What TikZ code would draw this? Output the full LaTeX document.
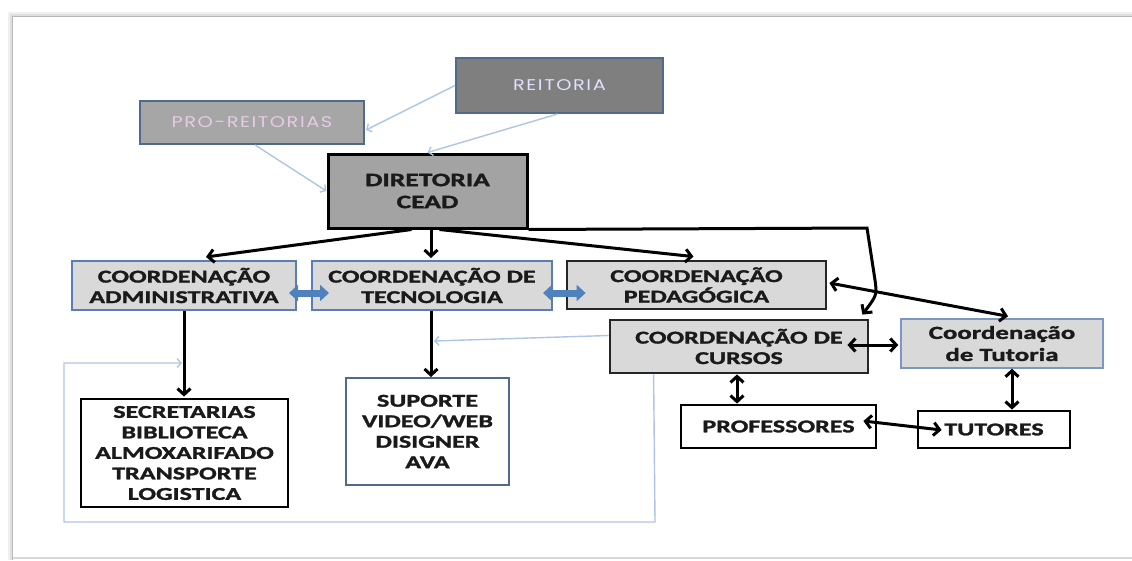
\documentclass[tikz,border=0pt]{standalone}
\usepackage{fontspec}
\setmainfont{Carlito}
\newfontfamily\bx[FakeStretch=1.45,FakeBold=1.6]{Carlito Bold}
\newfontfamily\lt[FakeStretch=1.25,LetterSpace=10]{Poppins}
\usetikzlibrary{arrows.meta,calc}
\definecolor{boxgray}{HTML}{D9D9D9}
\definecolor{reitgray}{HTML}{7F7F7F}
\definecolor{progray}{HTML}{A6A6A6}
\definecolor{dirgray}{HTML}{A3A3A3}
\definecolor{slate}{HTML}{4F6A8C}
\definecolor{blueborder}{HTML}{5A7DB5}
\definecolor{lightblue}{HTML}{AFC6E2}
\definecolor{bluearrow}{HTML}{4F81BD}
\definecolor{darkborder}{HTML}{262626}
\definecolor{txt}{HTML}{1A1A1A}
\tikzset{
  box/.style={rectangle, inner sep=0pt, align=center, text=txt,
    font=\bx\fontsize{18}{20.5}\selectfont},
  gbox/.style={box, fill=boxgray, draw=blueborder, line width=2pt},
  dbox/.style={box, fill=boxgray, draw=darkborder, line width=2.8pt},
  wbox/.style={box, fill=white, draw=black, line width=2.8pt},
  topbox/.style={rectangle, inner sep=0pt, draw=slate, line width=2pt,
    font=\lt\fontsize{15.5}{18}\selectfont},
  arr/.style={draw=black, line width=3pt, -{Straight Barb[length=6pt,width=13pt]}},
  darr/.style={draw=black, line width=3pt, {Straight Barb[length=6pt,width=13pt]}-{Straight Barb[length=6pt,width=13pt]}},
  lb/.style={draw=lightblue, line width=1.4pt},
  lbarr/.style={lb, -{Straight Barb[length=4pt,width=9pt]}},
  barr/.style={draw=bluearrow, line width=7pt, {Triangle[length=9pt,width=16pt]}-{Triangle[length=9pt,width=16pt]}},
}
\begin{document}
\begin{tikzpicture}[x=1pt,y=-1pt]
\useasboundingbox (0,0) rectangle (1132,560);
\fill[white] (0,0) rectangle (1132,560);
% page frame with soft shadow
\draw[gray!12, line width=5pt] (10,560) -- (10,14) -- (1132,14);
\draw[gray!25, line width=2.5pt] (11,560) -- (11,15) -- (1132,15);
\draw[gray!55, line width=1pt] (12.5,560) -- (12.5,16.5) -- (1132,16.5);
\draw[gray!30, line width=1.2pt] (12.5,558) -- (1132,558);

% nodes
\node[topbox, fill=reitgray, text=white!88!blue, minimum width=207pt, minimum height=55pt] (reit) at (559.5,85.5) {REITORIA};
\node[topbox, fill=progray, text=white!80!violet, minimum width=224pt, minimum height=43pt] (pro) at (252,122.5) {PRO-REITORIAS};
\node[box, fill=dirgray, draw=black, line width=3pt, minimum width=199pt, minimum height=74pt,
  font=\bx\fontsize{19}{22}\selectfont] (dir) at (427.5,191) {DIRETORIA\\CEAD};
\node[gbox, minimum width=224pt, minimum height=49pt] (adm) at (184,285.5) {COORDENAÇÃO\\ADMINISTRATIVA};
\node[gbox, minimum width=240pt, minimum height=49pt] (tec) at (432,285.5) {COORDENAÇÃO DE\\TECNOLOGIA};
\node[dbox, minimum width=259pt, minimum height=48pt] (ped) at (696.5,285) {COORDENAÇÃO\\PEDAGÓGICA};
\node[dbox, minimum width=258pt, minimum height=53pt] (cur) at (739,346.5) {COORDENAÇÃO DE\\CURSOS};
\node[box, fill=boxgray, draw=blueborder!80, line width=1.4pt, minimum width=202pt, minimum height=49pt,
  font=\bx\fontsize{18.5}{22}\selectfont] (tut) at (1002,343.5) {Coordenação\\de Tutoria};
\node[wbox, minimum width=207pt, minimum height=108pt] (sec) at (184.5,453) {SECRETARIAS\\BIBLIOTECA\\ALMOXARIFADO\\TRANSPORTE\\LOGISTICA};
\node[box, fill=white, draw=slate, line width=2pt, minimum width=163pt, minimum height=107pt] (sup) at (427.5,431.5) {SUPORTE\\VIDEO/WEB\\DISIGNER\\AVA};
\node[wbox, minimum width=195pt, minimum height=43pt] (prof) at (778.5,426.5) {PROFESSORES};
\node[wbox, minimum width=152pt, minimum height=37pt] (tuts) at (994,429.5) {TUTORES};

% light blue connectors at the top
\draw[lbarr] (reit.west) -- ($(pro.east)+(1,7.5)$);
\draw[lbarr] ($(reit.south)+(-2,0)$) -- (dir.north);
\draw[lbarr] ($(pro.south)+(3,0)$) -- (dir.west);

% from DIRETORIA
\draw[arr] ($(dir.south)+(-16,0)$) -- ($(adm.north)+(22,-3)$);
\draw[arr] ($(dir.south)+(3.5,0)$) -- ($(tec.north)+(-1,-2)$);
\draw[arr] ($(dir.south)+(12,0)$) -- ($(ped.north)+(-3,-3)$);
\draw[arr] (dir.south east) -- (867,228) -- (875,280)
  .. controls (877,295) .. ($(cur.north east)+(-7,-4)$);

% blue block arrows
\draw[barr] ($(adm.east)+(-8,7.5)$) -- ($(tec.west)+(18,7.5)$);
\draw[barr] ($(tec.east)+(-10,7.5)$) -- ($(ped.west)+(20,8)$);

% downward arrows
\coordinate (ts) at ($(tec.south)+(-1,0)$);
\coordinate (cs) at ($(cur.south)+(-2,0)$);
\coordinate (us) at ($(tut.south)+(10,0)$);
\draw[arr] (adm.south) -- ($(sec.north)+(-0.5,-1)$);
\draw[arr] (ts) -- (ts |- sup.north);

% right side double arrows
\draw[darr] ($(ped.east)+(2,-2)$) -- ($(tut.north)+(6,-2)$);
\draw[darr] ($(cur.east)+(-22,-1.5)$) -- ($(tut.west)+(-2,1.5)$);
\draw[darr] (cs) -- (cs |- prof.north);
\draw[darr] (us) -- (us |- tuts.north);
\draw[darr] ($(prof.east)+(-14,-5.5)$) -- ($(tuts.west)+(25,0.5)$);

% light blue lines from CURSOS
\coordinate (p1) at (434,341);
\coordinate (p2) at (182,363);
\draw[lbarr] ($(cur.west)+(0,-11)$) -- (p1);
\draw[lbarr] ($(cur.south west)+(45,0)$) -- (655,522) -- (64,522) -- (64,363) -- (p2);
\end{tikzpicture}
\end{document}
